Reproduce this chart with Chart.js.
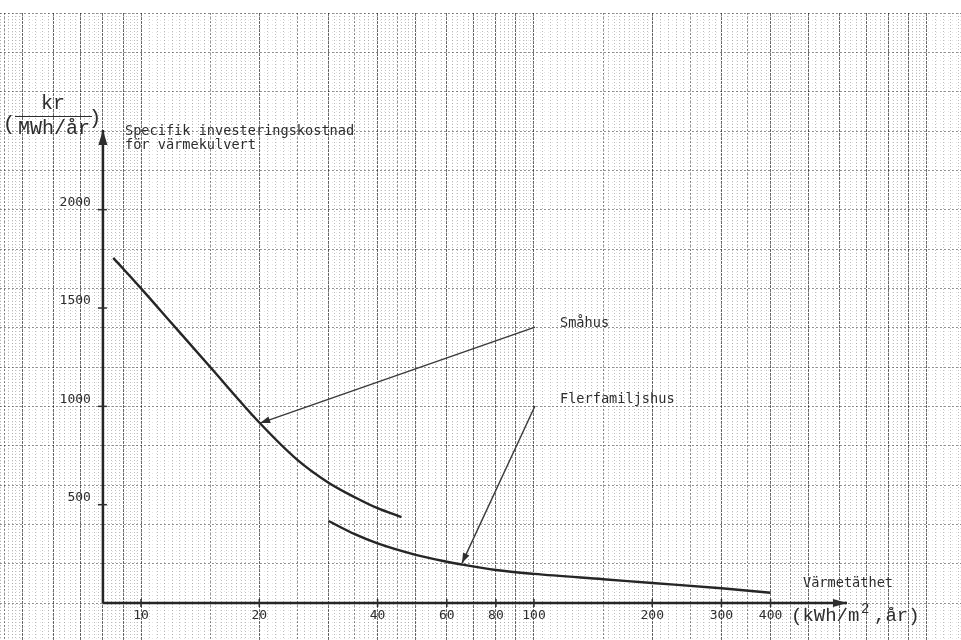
<!DOCTYPE html>
<html>
<head>
<meta charset="utf-8">
<script src="https://cdn.jsdelivr.net/npm/chart.js@4/dist/chart.umd.min.js"></script>
<style>
  body { margin: 0; background: #fff; }
  canvas { display: block; }
</style>
</head>
<body>
<canvas id="myChart" width="961" height="640"></canvas>
<script>
// Specifik investeringskostnad (kr per MWh/år) mot värmetäthet (kWh/m2,år)
var smahusX = [8.5, 10, 12, 15, 20, 25, 30, 35, 40, 46];
var smahusY = [1755, 1600, 1420, 1200, 918, 728, 612, 538, 482, 437];

var flerfamX = [30, 35, 40, 50, 60, 65, 80, 100, 150, 200, 300, 400];
var flerfamY = [417, 350, 303, 245, 210, 197, 168, 148, 121, 102, 75, 52];

var xTickValues = [10, 20, 40, 60, 80, 100, 200, 300, 400];
var yTickValues = [500, 1000, 1500, 2000];

// pekpilar från etiketterna till kurvorna
var smahusPointerX = [100.6, 20.1];
var smahusPointerY = [1403, 915];
var flerfamPointerX = [100.6, 65.6];
var flerfamPointerY = [1002, 203];

// axlarnas utsträckning
var axisXRange = [8, 626];
var axisYRange = [0, 2405];

// papperets område (logaritmiskt rutnät i x, linjärt i y)
var paperX = [4.377, 1221];
var paperY = [-188, 3000];

function points(xs, ys) {
  var out = [];
  for (var i = 0; i < xs.length; i++) out.push({ x: xs[i], y: ys[i] });
  return out;
}

// linjer på loggpapperet: 'major' = hela tal, 'mid' = halva, annars fin delning
function logLines(level) {
  var vals = [];
  [1, 10, 100, 1000].forEach(function (d) {
    if (level === 'major') {
      [1, 2, 3, 4, 5, 6, 7, 8, 9].forEach(function (m) { vals.push(m * d); });
    } else if (level === 'mid') {
      [1.5, 2.5, 3.5, 4.5].forEach(function (m) { vals.push(m * d); });
    } else {
      var m = 1;
      while (m < 10 - 1e-9) {
        vals.push(m * d);
        m += m < 2 ? 0.05 : (m < 5 ? 0.1 : 0.2);
        m = Math.round(m * 100) / 100;
      }
    }
  });
  return vals.filter(function (v) { return v > paperX[0] && v < paperX[1]; });
}

function linLines(start, step) {
  var vals = [];
  for (var v = start; v <= paperY[1]; v += step) vals.push(v);
  return vals;
}

function setTicks(list) {
  return function (scale) {
    scale.ticks = list.map(function (v) { return { value: v }; });
  };
}

function gridScale(type, axis, lines, color, dash) {
  return {
    type: type,
    axis: axis,
    position: axis === 'x' ? 'bottom' : 'left',
    min: axis === 'x' ? paperX[0] : paperY[0],
    max: axis === 'x' ? paperX[1] : paperY[1],
    afterBuildTicks: setTicks(lines),
    ticks: { display: false },
    grid: { color: color, lineWidth: 1, drawTicks: false },
    border: { display: false, dash: dash }
  };
}

function drawText(ctx, s, x, y, font, align) {
  ctx.font = font;
  ctx.textAlign = align || 'left';
  ctx.textBaseline = 'middle';
  ctx.fillText(s, x, y);
}

function arrowHead(ctx, fromX, fromY, toX, toY, len, half) {
  var a = Math.atan2(toY - fromY, toX - fromX);
  ctx.beginPath();
  ctx.moveTo(toX, toY);
  ctx.lineTo(toX - len * Math.cos(a) + half * Math.sin(a), toY - len * Math.sin(a) - half * Math.cos(a));
  ctx.lineTo(toX - len * Math.cos(a) - half * Math.sin(a), toY - len * Math.sin(a) + half * Math.cos(a));
  ctx.closePath();
  ctx.fill();
}

var labelsPlugin = {
  id: 'labels',
  afterDatasetsDraw: function (chart) {
    var ctx = chart.ctx;
    var xs = chart.scales.x, ys = chart.scales.y;
    ctx.save();
    ctx.fillStyle = '#2e2e2e';
    ctx.strokeStyle = '#2e2e2e';

    // pilspetsar på axlar och pekpilar
    chart.data.datasets.forEach(function (ds, i) {
      if (!ds.arrow) return;
      var pts = chart.getDatasetMeta(i).data;
      var a = pts[pts.length - 2], b = pts[pts.length - 1];
      arrowHead(ctx, a.x, a.y, b.x, b.y, ds.arrow[0], ds.arrow[1]);
    });

    // skalstreck och siffror
    var mono = '13px "DejaVu Sans Mono"';
    var x0 = xs.getPixelForValue(axisXRange[0]);
    var y0 = ys.getPixelForValue(0);
    ctx.lineWidth = 1.5;
    yTickValues.forEach(function (v) {
      var py = ys.getPixelForValue(v);
      ctx.beginPath(); ctx.moveTo(x0 - 5, py); ctx.lineTo(x0 + 4, py); ctx.stroke();
      drawText(ctx, String(v), x0 - 12, py - 7, mono, 'right');
    });
    xTickValues.forEach(function (v) {
      var px = xs.getPixelForValue(v);
      ctx.beginPath(); ctx.moveTo(px, y0 - 4); ctx.lineTo(px, y0 + 4); ctx.stroke();
      drawText(ctx, String(v), px, y0 + 13, mono, 'center');
    });

    // texter
    var type = '13.6px "DejaVu Sans Mono"';
    drawText(ctx, 'Specifik investeringskostnad', 125, 131, type);
    drawText(ctx, 'för värmekulvert', 125, 145, type);
    drawText(ctx, 'Småhus', 560, 323, type);
    drawText(ctx, 'Flerfamiljshus', 560, 399, type);
    drawText(ctx, 'Värmetäthet', 803, 583, type);

    // enhet på x-axeln
    var big = '19px "Liberation Mono"';
    ctx.font = big;
    ctx.textAlign = 'left';
    ctx.textBaseline = 'alphabetic';
    ctx.fillText('(kWh/m', 791, 621);
    ctx.font = '14px "Liberation Mono"';
    ctx.fillText('2', 861, 613);
    ctx.font = big;
    ctx.fillText(',år)', 874, 621);

    // enhet på y-axeln
    ctx.font = '20px "Liberation Mono"';
    ctx.textAlign = 'center';
    ctx.fillText('kr', 53, 109);
    ctx.fillText('MWh/år', 54, 134);
    ctx.font = '21px "Liberation Mono"';
    ctx.fillText('(', 9, 130);
    ctx.fillText(')', 95, 124);
    ctx.lineWidth = 1.2;
    ctx.beginPath(); ctx.moveTo(15, 116.5); ctx.lineTo(92, 116.5); ctx.stroke();

    ctx.restore();
  }
};

var ink = '#262626';
var ctx = document.getElementById('myChart').getContext('2d');
var chart = new Chart(ctx, {
  type: 'scatter',
  data: {
    datasets: [
      {
        label: 'Småhus',
        data: points(smahusX, smahusY),
        showLine: true,
        borderColor: ink,
        borderWidth: 2.4,
        pointRadius: 0,
        cubicInterpolationMode: 'monotone'
      },
      {
        label: 'Flerfamiljshus',
        data: points(flerfamX, flerfamY),
        showLine: true,
        borderColor: ink,
        borderWidth: 2.4,
        pointRadius: 0,
        cubicInterpolationMode: 'monotone'
      },
      {
        label: 'x-axel',
        data: points(axisXRange, [0, 0]),
        showLine: true,
        borderColor: ink,
        borderWidth: 2.5,
        pointRadius: 0,
        arrow: [14, 4]
      },
      {
        label: 'y-axel',
        data: points([axisXRange[0], axisXRange[0]], axisYRange),
        showLine: true,
        borderColor: ink,
        borderWidth: 2.5,
        pointRadius: 0,
        arrow: [15, 4.5]
      },
      {
        label: 'pil småhus',
        data: points(smahusPointerX, smahusPointerY),
        showLine: true,
        borderColor: '#3a3a3a',
        borderWidth: 1.4,
        pointRadius: 0,
        arrow: [10, 3.5]
      },
      {
        label: 'pil flerfamiljshus',
        data: points(flerfamPointerX, flerfamPointerY),
        showLine: true,
        borderColor: '#3a3a3a',
        borderWidth: 1.4,
        pointRadius: 0,
        arrow: [10, 3.5]
      }
    ]
  },
  options: {
    responsive: false,
    animation: false,
    layout: { padding: { top: 13, left: 0, right: 0, bottom: 0 } },
    plugins: {
      legend: { display: false },
      tooltip: { enabled: false }
    },
    scales: {
      x: gridScale('logarithmic', 'x', logLines('fine'), 'rgba(0,0,0,0.26)', [1, 2]),
      xMid: gridScale('logarithmic', 'x', logLines('mid'), 'rgba(0,0,0,0.4)', [2, 2]),
      xMajor: gridScale('logarithmic', 'x', logLines('major'), 'rgba(0,0,0,0.55)', [3, 1]),
      y: gridScale('linear', 'y', linLines(-180, 20), 'rgba(0,0,0,0.1)', [1, 3]),
      yMajor: gridScale('linear', 'y', linLines(0, 200), 'rgba(0,0,0,0.4)', [2, 2])
    }
  },
  plugins: [labelsPlugin]
});
</script>
</body>
</html>
